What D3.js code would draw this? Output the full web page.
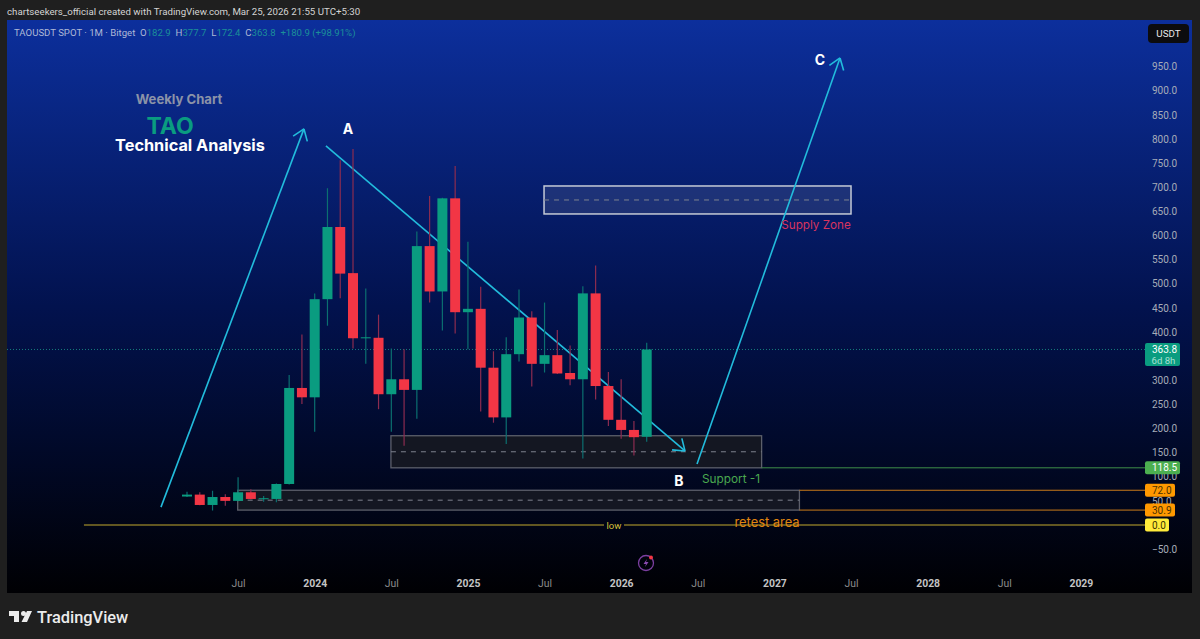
<!DOCTYPE html>
<html>
<head>
<meta charset="utf-8">
<script src="https://cdn.jsdelivr.net/npm/d3@7"></script>
<style>
body { margin: 0; background: #1f1f1f; }
svg { font-family: Roboto, sans-serif; }
.axis path, .axis line { display: none; }
</style>
</head>
<body>
<svg id="chart" width="1200" height="639"></svg>
<script>
// Monthly candles, Mar 2023 to Mar 2026
const opens  = [59,63,41.5,58,50,67.8,54,54,85,284,264.6,468,617.6,522,387,388,271,302,280,578,484,677,441,448,326,223,354,430,334,352,315,302,480,288,218,197,182.9];
const closes = [63,41.5,58,50,67.8,54,55.5,85,284,264.6,468,617.6,521,387,389,271,302,280,578,484,677,441,448,326,223,354,430,334,352,314,302,480,288,218,197,182,363.8];
const highs  = [69,68,71,63.6,99,74,60,86,311,395,480,698,756,779,490,436,366,364,608,682,678,744,587,494,360,389,488,443,461,404,372,495,538,317,302,215.5,377.7];
const lows   = [58,41,30,40,49,53,48,47,84,251,193,413,470,366,334,240,193,164,220,461,403,397,364,235,212,168,339,287,316,313,289.5,138,260,205,179,144,172.4];

// Axis labels
const priceTicks = d3.range(-50, 951, 50);
const timeTickMonths = [4,10,16,22,28,34,40,46,52,58,64,70];
const timeTickLabels = ["Jul","2024","Jul","2025","Jul","2026","Jul","2027","Jul","2028","Jul","2029"];

// Drawings, as [month index, price]
const arrowRise = [[-2.04,37],[9.16,821]];
const arrowFall = [[10.88,785.5],[39,153.4]];
const arrowNext = [[39.94,126.4],[51.14,968]];
const supplyZone = [27.96,52,702.6,644.6];
const supportZone = [15.97,45,185,118.5];
const retestZone = [3.97,47.96,72,30.9];
const lowLine = [-8.07,0];

const priceLabels = ["363.8","118.5","72.0","30.9","0.0"];
const priceLevels = [363.8,118.5,72,30.9,0];

const svg = d3.select("#chart");
const width = 1200, height = 639;
const panel = { left: 7, top: 20, right: 1192, bottom: 593 };
const axisX = 1145;
const uiFont = "Roboto, sans-serif";
const noteFont = "Inter, sans-serif";

const x = d3.scaleLinear().domain([0, 36]).range([187, 646.7]);
const y = d3.scaleLinear().domain([0, 950]).range([525, 66.6]);

const green = "#0a9c80", red = "#f23645";

const grad = svg.append("defs").append("linearGradient")
    .attr("id", "bg").attr("x1", 0).attr("x2", 0).attr("y1", 0).attr("y2", 1);
grad.append("stop").attr("offset", "0%").attr("stop-color", "#0c2f9c");
grad.append("stop").attr("offset", "50%").attr("stop-color", "#02124e");
grad.append("stop").attr("offset", "100%").attr("stop-color", "#000003");

svg.append("rect").attr("width", width).attr("height", height).attr("fill", "#1f1f1f");
svg.append("rect")
    .attr("x", panel.left).attr("y", panel.top)
    .attr("width", panel.right - panel.left).attr("height", panel.bottom - panel.top)
    .attr("fill", "url(#bg)");

// Header
svg.append("text").attr("x", 7).attr("y", 15)
    .attr("font-size", 9.7).attr("fill", "#d4d4d4")
    .text("chartseekers_official created with TradingView.com, Mar 25, 2026 21:55 UTC+5:30");

const legend = svg.append("text").attr("x", 14).attr("y", 36).attr("font-size", 9.6).style("white-space", "pre");
[["TAOUSDT SPOT · 1M · Bitget  ", "#aeb8d6"], ["O", "#aeb8d6"], ["182.9  ", "#1b8f98"],
 ["H", "#aeb8d6"], ["377.7  ", "#1b8f98"], ["L", "#aeb8d6"], ["172.4  ", "#1b8f98"],
 ["C", "#aeb8d6"], ["363.8  ", "#1b8f98"], ["+180.9 (+98.91%)", "#1b8f98"]].forEach(p => {
    legend.append("tspan").attr("fill", p[1]).text(p[0]);
});

// Axes
const yAxis = d3.axisRight(y).tickValues(priceTicks).tickSize(0).tickPadding(0)
    .tickFormat(d => d < 0 ? "−" + d3.format(".1f")(-d) : d3.format(".1f")(d));
svg.append("g").attr("class", "axis y-axis")
    .attr("transform", "translate(1152,0)")
    .call(yAxis)
    .call(g => g.selectAll("text").attr("font-size", 10).attr("fill", "#a6acb8")
        .attr("font-family", uiFont));

const xAxis = d3.axisBottom(x).tickValues(timeTickMonths).tickSize(0).tickPadding(0)
    .tickFormat((d, i) => timeTickLabels[i]);
svg.append("g").attr("class", "axis x-axis")
    .attr("transform", "translate(0,580)")
    .call(xAxis)
    .call(g => g.selectAll("text")
        .attr("font-size", 10.4)
        .attr("font-family", uiFont)
        .attr("font-weight", (d, i) => timeTickLabels[i] === "Jul" ? 400 : 700)
        .attr("fill", (d, i) => timeTickLabels[i] === "Jul" ? "#8c8c8c" : "#c4c4c4"));

// Zones
function zone(z, stroke, sw, fill) {
    const g = svg.append("g");
    g.append("rect")
        .attr("x", x(z[0])).attr("y", y(z[2]))
        .attr("width", x(z[1]) - x(z[0])).attr("height", y(z[3]) - y(z[2]))
        .attr("fill", fill).attr("stroke", stroke).attr("stroke-width", sw);
    g.append("line")
        .attr("x1", x(z[0])).attr("x2", x(z[1]))
        .attr("y1", y((z[2] + z[3]) / 2)).attr("y2", y((z[2] + z[3]) / 2))
        .attr("stroke", "#7e828e").attr("stroke-width", 1).attr("stroke-dasharray", "5 5");
}
zone(supplyZone, "#c4cad6", 1.5, "rgba(150,155,175,0.17)");
zone(supportZone, "#5c5f6a", 1.3, "#141722");
zone(retestZone, "#5c5f6a", 1.3, "#141722");

// Level lines
svg.append("line").attr("x1", x(supportZone[1])).attr("x2", axisX)
    .attr("y1", y(118.5)).attr("y2", y(118.5)).attr("stroke", "#3f8f4a");
[72, 30.9].forEach(v => {
    svg.append("line").attr("x1", x(retestZone[1])).attr("x2", axisX)
        .attr("y1", y(v)).attr("y2", y(v)).attr("stroke", "#c87a1a");
});
svg.append("line").attr("x1", x(lowLine[0])).attr("x2", 604)
    .attr("y1", y(0)).attr("y2", y(0)).attr("stroke", "#c2a92e");
svg.append("line").attr("x1", 624).attr("x2", axisX)
    .attr("y1", y(0)).attr("y2", y(0)).attr("stroke", "#c2a92e");
svg.append("text").attr("x", 614).attr("y", y(0) + 3.5).attr("text-anchor", "middle")
    .attr("font-size", 9.5).attr("fill", "#d6c03a").text("low");

// Last price line
svg.append("line").attr("x1", panel.left).attr("x2", axisX)
    .attr("y1", y(363.8)).attr("y2", y(363.8))
    .attr("stroke", "#1b9a8c").attr("stroke-dasharray", "1 2").attr("opacity", 0.8);

// Arrows sit under the candles
function arrow(pts) {
    const line = d3.line().x(d => x(d[0])).y(d => y(d[1]));
    const g = svg.append("g").attr("fill", "none").attr("stroke", "#22bcdc").attr("stroke-width", 1.6);
    g.append("path").attr("d", line(pts));
    const x1 = x(pts[0][0]), y1 = y(pts[0][1]), x2 = x(pts[1][0]), y2 = y(pts[1][1]);
    const a = Math.atan2(y2 - y1, x2 - x1), len = 13;
    [-0.62, 0.62].forEach(da => {
        g.append("line").attr("x1", x2).attr("y1", y2)
            .attr("x2", x2 - len * Math.cos(a + da)).attr("y2", y2 - len * Math.sin(a + da));
    });
}
arrow(arrowRise);
arrow(arrowFall);
arrow(arrowNext);

// Candles
const candles = svg.append("g").selectAll("g")
    .data(opens.map((o, i) => ({ i, o, c: closes[i], h: highs[i], l: lows[i] })))
    .enter().append("g");
candles.append("line")
    .attr("x1", d => x(d.i)).attr("x2", d => x(d.i))
    .attr("y1", d => y(d.h)).attr("y2", d => y(d.l))
    .attr("stroke", d => d.c >= d.o ? "#0b6f70" : "#8c2c50").attr("stroke-width", 1.2);
candles.append("rect")
    .attr("x", d => x(d.i) - 5).attr("width", 10)
    .attr("y", d => y(Math.max(d.o, d.c)))
    .attr("height", d => Math.max(1, Math.abs(y(d.o) - y(d.c))))
    .attr("fill", d => d.c >= d.o ? green : red);

// Notes
function note(px, py, str, size, color, weight) {
    svg.append("text").attr("x", px).attr("y", py).attr("text-anchor", "middle")
        .attr("font-family", noteFont)
        .attr("font-size", size).attr("fill", color).attr("font-weight", weight || 400).text(str);
}
note(179, 104, "Weekly Chart", 13.1, "#8b93a8", 700);
note(170, 134, "TAO", 23, "#0a9c80", 700);
note(190, 151, "Technical Analysis", 16.3, "#ffffff", 700);
note(348, 134, "A", 14, "#ffffff", 700);
note(679, 486, "B", 14, "#ffffff", 700);
note(820, 65, "C", 14, "#ffffff", 700);
note(816, 229, "Supply Zone", 11.7, "#d8345f");
note(731, 483, "Support -1", 11.8, "#4aa84f");
note(767, 527, "retest area", 12.9, "#e0860f");

// Price tags
const tagFill = ["#0a9c80", "#4caf50", "#ff9800", "#ff9800", "#ffeb3b"];
const tagText = ["#ffffff", "#ffffff", "#4a3000", "#4a3000", "#3a3200"];
const tagWidth = [35, 35, 30, 30, 24];
priceLevels.forEach((v, i) => {
    const h = i === 0 ? 23 : 13;
    svg.append("rect").attr("x", axisX).attr("y", y(v) - 6.5).attr("width", tagWidth[i]).attr("height", h)
        .attr("rx", 2).attr("fill", tagFill[i]);
    svg.append("text").attr("x", 1152).attr("y", y(v) + 3.5).attr("font-size", 10)
        .attr("fill", tagText[i]).text(priceLabels[i]);
});
svg.append("text").attr("x", 1151.5).attr("y", y(363.8) + 14.5).attr("font-size", 9.6)
    .attr("fill", "#a9e0d4").text("6d 8h");

// Currency button
svg.append("rect").attr("x", 1148).attr("y", 24).attr("width", 41).attr("height", 19)
    .attr("rx", 4).attr("fill", "#0c0c0e");
svg.append("text").attr("x", 1168.5).attr("y", 37).attr("text-anchor", "middle")
    .attr("font-size", 9.8).attr("fill", "#e8e8e8").text("USDT");

// Bolt icon
const icon = svg.append("g").attr("transform", "translate(646,563)");
icon.append("circle").attr("r", 7.5).attr("fill", "none").attr("stroke", "#7b3fa0").attr("stroke-width", 1.3);
icon.append("path").attr("d", "M1,-4 L-2.5,1 L0,1 L-1,4 L2.5,-1 L0,-1 Z").attr("fill", "#8a4ab0");
icon.append("circle").attr("cx", 5).attr("cy", -5.5).attr("r", 2).attr("fill", "#f23645");

// TradingView logo
svg.append("path")
    .attr("d", "M9,611 H19 V622 H14 V616 H9 Z M27,611 H32 L27,622 H21.5 Z")
    .attr("fill", "#ececec");
svg.append("circle").attr("cx", 23.5).attr("cy", 613.5).attr("r", 2.5).attr("fill", "#ececec");
svg.append("text").attr("x", 37).attr("y", 623).attr("font-size", 16.4).attr("font-weight", 500)
    .attr("fill", "#ececec").text("TradingView");
</script>
</body>
</html>
